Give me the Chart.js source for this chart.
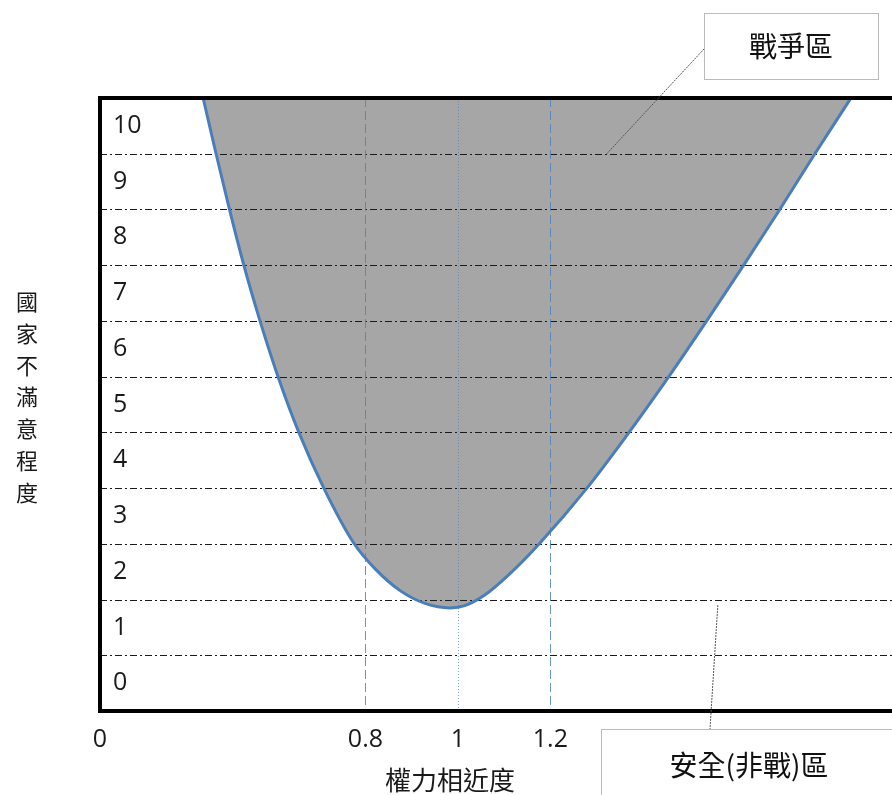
<!DOCTYPE html>
<html>
<head>
<meta charset="utf-8">
<script src="https://cdn.jsdelivr.net/npm/chart.js@4.4.1/dist/chart.umd.min.js"></script>
<style>
  html, body { margin: 0; padding: 0; background: #fff; overflow: hidden; }
  #wrap { width: 892px; height: 795px; overflow: hidden; }
  canvas { display: block; }
</style>
</head>
<body>
<div id="wrap"><canvas id="chart" width="902" height="795"></canvas></div>
<script>
// 曲線資料：權力相近度 (x) 對 國家不滿意程度 (y)
const curveX = [0.449, 0.477, 0.506, 0.537, 0.572, 0.611, 0.656, 0.710, 0.775, 0.821, 0.875, 0.929, 0.983,
                1.015, 1.058, 1.112, 1.177, 1.279, 1.370, 1.456, 1.538, 1.618, 1.696, 1.772, 1.854];
const curveY = [10.5, 9.5, 8.5, 7.5, 6.5, 5.5, 4.5, 3.5, 2.51, 2.05, 1.66, 1.43, 1.35,
                1.39, 1.58, 1.96, 2.51, 3.5, 4.5, 5.5, 6.5, 7.5, 8.5, 9.5, 10.55];

// 座標軸
const yTickValues = [0, 1, 2, 3, 4, 5, 6, 7, 8, 9, 10];
const yTickLabels = ["0", "1", "2", "3", "4", "5", "6", "7", "8", "9", "10"];
const xAxisStart = 0.226; // 軸的原點 (標示為 0)
const xAxisEnd = 1.956;
const xTickValues = [xAxisStart, 0.8, 1, 1.2];
const xTickLabels = ["0", "0.8", "1", "1.2"];
const refLines = [0.8, 1, 1.2];

const xTitle = "權力相近度";
const yTitle = "國家不滿意程度";
const warLabel = "戰爭區";
const safeLabel = "安全(非戰)區";

const cjkFont = "'Noto Sans CJK TC', 'Noto Sans CJK SC', sans-serif";

// 格線、參考線、外框、文字
const decorPlugin = {
  id: "decor",
  afterDatasetDraw(chart, args) {
    if (args.index !== 0) return;
    const { ctx, chartArea: a, scales: { x, y } } = chart;
    ctx.save();
    // 橫向點虛線 (介於刻度之間)
    ctx.strokeStyle = "#1a1a1a";
    ctx.lineWidth = 1;
    ctx.setLineDash([7, 3, 2, 3]);
    yTickValues.slice(1).forEach((v) => {
      const py = Math.round(y.getPixelForValue(v - 0.5)) + 0.5;
      ctx.beginPath();
      ctx.moveTo(a.left, py);
      ctx.lineTo(a.right, py);
      ctx.stroke();
    });
    // 直向參考線
    refLines.forEach((v) => {
      const px = Math.round(x.getPixelForValue(v)) + 0.5;
      if (v === 1) {
        ctx.strokeStyle = "rgba(79,129,189,0.75)";
        ctx.setLineDash([1, 2]);
      } else {
        ctx.strokeStyle = "rgba(79,129,189,0.85)";
        ctx.setLineDash([9, 4]);
      }
      ctx.beginPath();
      ctx.moveTo(px, a.top);
      ctx.lineTo(px, a.bottom);
      ctx.stroke();
    });
    ctx.restore();
  },
  afterDraw(chart) {
    const { ctx, chartArea: a, scales: { x, y } } = chart;
    ctx.save();
    // 外框 (左、上、下)
    ctx.strokeStyle = "#000";
    ctx.lineWidth = 4;
    ctx.beginPath();
    ctx.moveTo(a.right + 10, a.top);
    ctx.lineTo(a.left, a.top);
    ctx.lineTo(a.left, a.bottom);
    ctx.lineTo(a.right + 10, a.bottom);
    ctx.stroke();

    ctx.fillStyle = "#1a1a1a";
    ctx.textAlign = "center";
    ctx.textBaseline = "middle";
    // x 軸標題
    ctx.font = "26px " + cjkFont;
    ctx.fillText(xTitle, 450, 780);
    // y 軸標題 (直排)
    ctx.font = "22px " + cjkFont;
    Array.from(yTitle).forEach((ch, i) => {
      ctx.fillText(ch, 27, 302 + i * 31.7);
    });

    // 註解方塊
    ctx.lineWidth = 1;
    ctx.strokeStyle = "#777";
    ctx.setLineDash([1, 1]);
    ctx.strokeRect(704.5, 13.5, 174, 66);
    ctx.strokeRect(601.5, 729.5, 320, 100);
    ctx.setLineDash([2, 1]);
    ctx.strokeStyle = "#555";
    ctx.beginPath();
    ctx.moveTo(704, 49);
    ctx.lineTo(x.getPixelForValue(1.322), y.getPixelForValue(9.5));
    ctx.moveTo(x.getPixelForValue(1.562), y.getPixelForValue(1.4));
    ctx.lineTo(710, 729);
    ctx.stroke();

    ctx.fillStyle = "#111";
    ctx.font = "28px " + cjkFont;
    ctx.fillText(warLabel, 791, 46);
    ctx.fillText(safeLabel, 749, 765);
    ctx.restore();
  }
};

const points = curveX.map((v, i) => ({ x: v, y: curveY[i] }));

new Chart(document.getElementById("chart"), {
  type: "line",
  data: {
    datasets: [
      {
        // 戰爭區 (灰色填色)
        data: points,
        borderWidth: 0,
        borderColor: "rgba(0,0,0,0)",
        backgroundColor: "#a6a6a6",
        fill: "end",
        pointRadius: 0,
        cubicInterpolationMode: "monotone",
        order: 2
      },
      {
        data: points,
        borderColor: "#4a7ebb",
        borderWidth: 3,
        fill: false,
        pointRadius: 0,
        cubicInterpolationMode: "monotone",
        order: 1
      }
    ]
  },
  options: {
    responsive: false,
    animation: false,
    devicePixelRatio: 1,
    layout: { padding: { left: 100, top: 98, right: 2, bottom: 0 } },
    plugins: {
      legend: { display: false },
      tooltip: { enabled: false }
    },
    scales: {
      x: {
        type: "linear",
        min: xAxisStart,
        max: xAxisEnd,
        afterBuildTicks: (scale) => {
          scale.ticks = xTickValues.map((v) => ({ value: v }));
        },
        afterFit: (scale) => { scale.height = 84; },
        grid: { display: false, drawTicks: false },
        border: { display: false },
        ticks: {
          autoSkip: false,
          maxRotation: 0,
          padding: 14,
          color: "#1a1a1a",
          font: { family: "'Open Sans', 'Liberation Sans', sans-serif", size: 25 },
          callback: (v) => xTickLabels[xTickValues.indexOf(v)]
        }
      },
      y: {
        type: "linear",
        min: -0.5,
        max: 10.5,
        afterBuildTicks: (scale) => {
          scale.ticks = yTickValues.map((v) => ({ value: v }));
        },
        afterFit: (scale) => { scale.width = 0; },
        grid: { display: false, drawTicks: false },
        border: { display: false },
        ticks: {
          mirror: true,
          padding: 13,
          color: "#1a1a1a",
          font: { family: "'Open Sans', 'Liberation Sans', sans-serif", size: 25 },
          callback: (v) => yTickLabels[yTickValues.indexOf(v)]
        }
      }
    }
  },
  plugins: [decorPlugin]
});
</script>
</body>
</html>
